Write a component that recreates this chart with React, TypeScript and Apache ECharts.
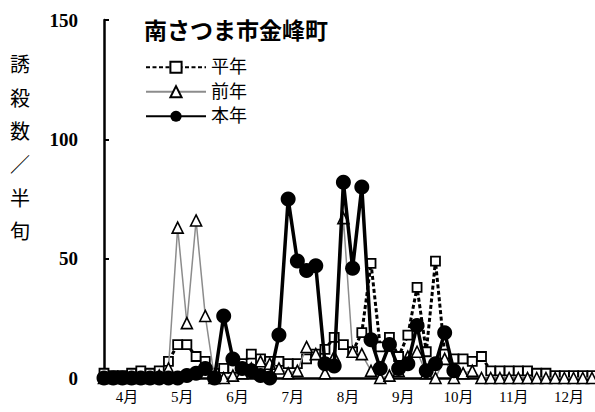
import React, { useEffect, useRef } from "react";
import * as echarts from "echarts";

const months = ["4月", "5月", "6月", "7月", "8月", "9月", "10月", "11月", "12月"];
const yTicks = [0, 50, 100, 150];

const heinen = [
  2, 1, 1, 2, 3, 2, 3, 7, 14, 14, 9, 7, 2, 4, 4, 6, 10, 8, 7, 7, 6, 6, 8, 10, 12, 17, 14, 11, 19, 48,
  13, 17, 9, 18, 38, 11, 49, 10, 8, 8, 7, 9, 3, 3, 3, 3, 3, 2, 2, 1, 1, 1, 1, 1,
];
const zennen = [
  0, 0, 0, 0, 0, 0, 1, 4, 63, 23, 66, 26, 0, 0, 1, 2, 4, 7, 6, 4, 2, 3, 13, 10, 2, 9, 67, 11, 10, 3,
  0, 1, 3, 9, 11, 2, 0, 8, 0, 2, 3, 0, 0, 0, 0, 0, 0, 0, 0, 0, 0, 0, 0, 0,
];
const honnen = [
  0, 0, 0, 0, 0, 0, 0, 0, 0, 1, 2, 4, 0, 26, 8, 4, 3, 1, 0, 18, 75, 49, 45, 47, 6, 5, 82, 46, 80, 16,
  4, 14, 4, 6, 22, 3, 6, 19, 3,
];

const serif = "'Liberation Serif', 'Noto Sans CJK JP', serif";

export default function App() {
  const ref = useRef<HTMLDivElement>(null);
  useEffect(() => {
    if (!ref.current) return;
    const chart = echarts.init(ref.current, undefined, { renderer: "svg" });
    const toPairs = (arr: number[]) => arr.map((v, i) => [i, v]);
    chart.setOption({
      animation: false,
      backgroundColor: "#ffffff",
      title: {
        text: "南さつま市金峰町",
        left: 139,
        top: 12,
        textStyle: {
          fontFamily: "'Noto Sans CJK JP', sans-serif",
          fontWeight: "bold",
          fontSize: 23,
          color: "#000",
        },
      },
      legend: {
        orient: "vertical",
        left: 145,
        top: 55,
        padding: 0,
        itemWidth: 60,
        itemHeight: 14,
        itemGap: 0,
        data: ["平年", "前年", "本年"],
        textStyle: { fontFamily: serif, fontSize: 18, lineHeight: 24.5, height: 24.5, color: "#000" },
      },
      graphic: [
        {
          type: "text",
          left: 10,
          top: 47,
          style: {
            text: "誘\n殺\n数\n／\n半\n旬",
            fontFamily: "'Noto Sans CJK JP', serif",
            fontSize: 20,
            lineHeight: 33.4,
            fill: "#000",
            align: "center",
          },
        },
      ],
      grid: { left: 104, right: 3, top: 20, bottom: 34, containLabel: false },
      xAxis: {
        type: "value",
        min: 0,
        max: 53,
        axisLine: { show: true, lineStyle: { color: "#000", width: 2.5 } },
        axisTick: { show: false },
        splitLine: { show: false },
        axisLabel: {
          customValues: months.map((_, k) => 2.5 + 6 * k),
          formatter: (v: number) => months[Math.round((v - 2.5) / 6)] ?? "",
          fontFamily: serif,
          fontSize: 15,
          color: "#000",
          margin: 11,
        },
      },
      yAxis: {
        type: "value",
        min: yTicks[0],
        max: yTicks[yTicks.length - 1],
        interval: 50,
        axisLine: { show: true, lineStyle: { color: "#000", width: 2.5 } },
        axisTick: { show: true, inside: true, length: 5, lineStyle: { color: "#000", width: 2 } },
        splitLine: { show: false },
        axisLabel: {
          fontFamily: serif,
          fontWeight: "bold",
          fontSize: 19,
          color: "#000",
          margin: 26,
        },
      },
      series: [
        {
          name: "平年",
          type: "line",
          data: toPairs(heinen),
          clip: false,
          symbol: "rect",
          symbolSize: 9,
          lineStyle: { color: "#000", width: 3, type: [4, 2.5] },
          itemStyle: { color: "#fff", borderColor: "#000", borderWidth: 1.8 },
          z: 2,
        },
        {
          name: "前年",
          type: "line",
          data: toPairs(zennen),
          clip: false,
          symbol: "triangle",
          symbolSize: 11,
          lineStyle: { color: "#8c8c8c", width: 1.5 },
          itemStyle: { color: "#fff", borderColor: "#000", borderWidth: 1.6 },
          z: 3,
        },
        {
          name: "本年",
          type: "line",
          data: toPairs(honnen),
          clip: false,
          symbol: "circle",
          symbolSize: 15,
          lineStyle: { color: "#000", width: 3.5 },
          itemStyle: { color: "#000", borderColor: "#000", borderWidth: 0 },
          z: 4,
        },
      ],
    });
    return () => chart.dispose();
  }, []);
  return (
    <div
      ref={ref}
      style={{ position: "fixed", left: 0, top: 0, width: 595, height: 412 }}
    />
  );
}
